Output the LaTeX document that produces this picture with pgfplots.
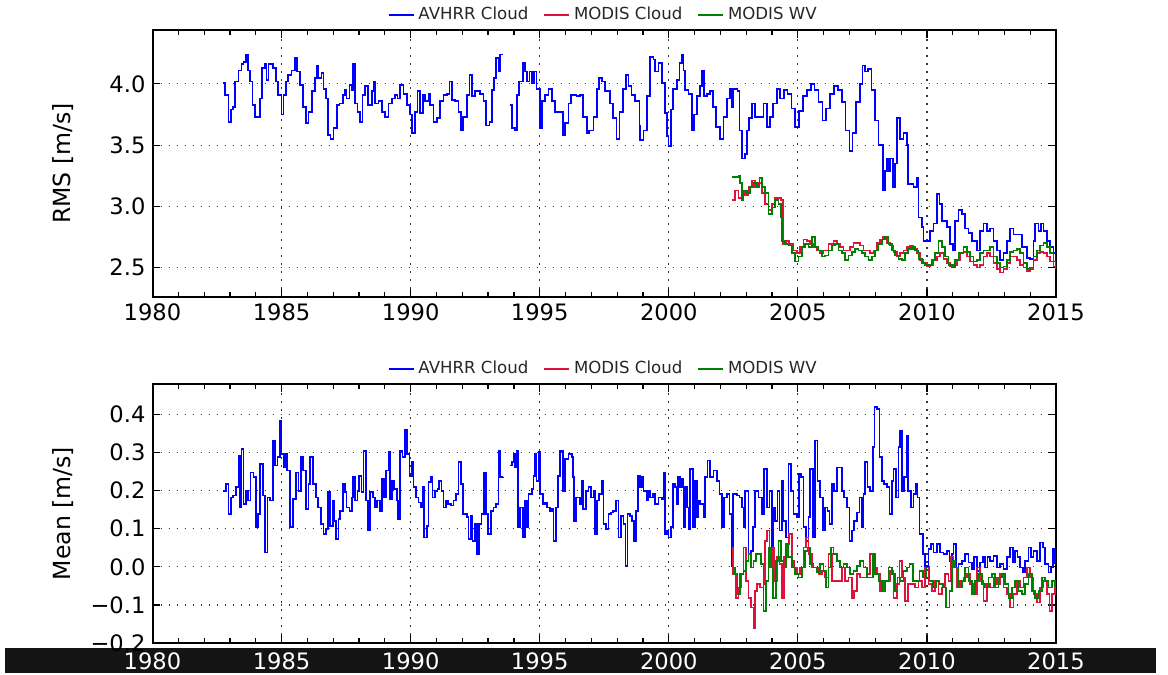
\documentclass[border=0pt]{standalone}
\usepackage{fontspec}
\setmainfont{DejaVu Sans}
\usepackage{pgfplots}
\pgfplotsset{compat=1.18}
\definecolor{mblue}{RGB}{0,0,255}
\definecolor{mred}{RGB}{220,20,60}
\definecolor{mgreen}{RGB}{0,128,0}
\pgfplotsset{
  panel/.style={
    scale only axis, width=451.75pt,
    xmin=1980, xmax=2015,
    xtick={1980,1985,1990,1995,2000,2005,2010,2015},
    xticklabels={1980,1985,1990,1995,2000,2005,2010,2015},
    minor x tick num=4,
    tick align=inside, major tick length=4pt, minor tick length=2.5pt,
    axis line style={line width=1pt},
    tick style={black, line width=0.6pt},
    xmajorgrids, ymajorgrids,
    major grid style={black!80, line width=0.6pt, dash pattern=on 0.8pt off 3.2pt},
    ticklabel style={font=\fontsize{11.3}{13}\selectfont},
    label style={font=\fontsize{11.8}{14}\selectfont},
    ylabel style={at={(axis description cs:-0.099,0.5)}, anchor=center},
    unbounded coords=jump,
    legend columns=3,
    legend style={draw=none, fill=none, at={(0.5,1)}, anchor=center, yshift=7.5pt,
      font=\fontsize{8.3}{10}\selectfont, text=black!85,
      /tikz/every even column/.append style={column sep=5.5pt}},
    legend image code/.code={\draw[#1] (0pt,0pt) -- (12.5pt,0pt);},
    every axis plot/.append style={line width=0.85pt, const plot},
  }
}
\begin{document}
\begin{tikzpicture}
\path[use as bounding box] (0,0) rectangle (584pt,337.5pt);
\begin{axis}[panel, at={(76.25pt,189pt)}, anchor=south west, height=133.5pt,
  ymin=2.26, ymax=4.44, ytick={2.5,3.0,3.5,4.0}, yticklabels={2.5,3.0,3.5,4.0},
  ylabel={RMS [m/s]}]
\addplot[mblue] coordinates {
(1982.72,4.01)(1982.81,3.91)(1982.94,3.69)(1983.03,3.79)(1983.13,3.81)(1983.20,4.02)(1983.33,4.11)(1983.45,4.16)(1983.52,4.18)(1983.62,4.24)(1983.71,4.11)(1983.78,4.02)(1983.87,3.83)(1983.97,3.73)(1984.10,3.73)(1984.16,3.88)(1984.23,4.13)(1984.36,4.16)(1984.42,4.03)(1984.49,4.16)(1984.55,4.16)(1984.68,4.13)(1984.78,4.02)(1984.87,3.91)(1985.00,3.75)(1985.07,3.91)(1985.17,4.02)(1985.26,4.07)(1985.39,4.11)(1985.52,4.21)(1985.61,4.10)(1985.71,3.99)(1985.84,3.81)(1985.95,3.68)(1986.04,3.77)(1986.17,3.94)(1986.30,4.05)(1986.36,4.15)(1986.43,4.05)(1986.55,4.09)(1986.62,3.96)(1986.72,3.88)(1986.81,3.58)(1986.90,3.55)(1987.01,3.64)(1987.14,3.83)(1987.24,3.84)(1987.37,3.91)(1987.46,3.95)(1987.52,3.88)(1987.63,3.99)(1987.72,3.95)(1987.78,4.16)(1987.85,3.84)(1987.94,3.77)(1988.04,3.69)(1988.13,3.91)(1988.23,3.98)(1988.36,3.83)(1988.49,3.94)(1988.56,4.02)(1988.62,3.84)(1988.75,3.86)(1988.88,3.77)(1989.01,3.73)(1989.14,3.84)(1989.27,3.88)(1989.40,3.91)(1989.49,3.88)(1989.59,3.99)(1989.72,3.92)(1989.85,3.83)(1989.98,3.75)(1990.04,3.60)(1990.17,3.77)(1990.26,3.94)(1990.36,3.76)(1990.47,3.91)(1990.56,3.86)(1990.69,3.92)(1990.75,3.83)(1990.88,3.69)(1991.01,3.72)(1991.14,3.86)(1991.27,3.91)(1991.40,3.92)(1991.50,4.02)(1991.59,3.87)(1991.72,3.86)(1991.85,3.77)(1991.94,3.62)(1992.04,3.73)(1992.17,3.91)(1992.28,4.07)(1992.37,3.90)(1992.49,3.94)(1992.69,3.92)(1992.82,3.86)(1992.91,3.66)(1993.05,3.69)(1993.14,3.95)(1993.23,4.05)(1993.31,4.21)(1993.40,4.10)(1993.46,4.24)(1993.57,4.24)
(1993.70,nan)
(1993.83,3.83)(1993.92,3.64)(1994.04,3.62)(1994.11,3.91)(1994.21,4.02)(1994.34,4.17)(1994.43,4.10)(1994.52,4.02)(1994.60,4.10)(1994.69,4.01)(1994.79,4.10)(1994.88,3.96)(1995.01,3.64)(1995.08,3.86)(1995.21,3.91)(1995.34,3.96)(1995.47,3.86)(1995.59,3.77)(1995.79,3.77)(1995.89,3.58)(1995.98,3.68)(1996.11,3.84)(1996.20,3.91)(1996.43,3.90)(1996.56,3.91)(1996.69,3.73)(1996.82,3.60)(1996.92,3.62)(1997.08,3.73)(1997.21,3.96)(1997.30,4.05)(1997.40,4.02)(1997.53,3.94)(1997.73,3.84)(1997.85,3.72)(1997.98,3.55)(1998.09,3.77)(1998.22,3.96)(1998.35,4.07)(1998.44,3.98)(1998.56,3.91)(1998.69,3.86)(1998.86,3.66)(1998.89,3.54)(1999.02,3.62)(1999.15,3.90)(1999.28,4.22)(1999.41,4.20)(1999.47,4.10)(1999.60,4.17)(1999.73,4.01)(1999.86,3.76)(1999.92,3.57)(1999.99,3.49)(2000.08,3.79)(2000.15,3.96)(2000.31,4.03)(2000.41,4.17)(2000.50,4.24)(2000.57,4.11)(2000.63,3.95)(2000.76,3.92)(2000.89,3.62)(2000.98,3.75)(2001.08,3.90)(2001.21,3.98)(2001.28,4.11)(2001.37,3.90)(2001.47,3.92)(2001.60,3.94)(2001.70,3.81)(2001.83,3.65)(2001.99,3.55)(2002.12,3.73)(2002.25,3.88)(2002.38,3.96)(2002.44,3.81)(2002.50,3.96)(2002.66,3.94)(2002.74,3.62)(2002.83,3.39)(2002.96,3.43)(2003.02,3.62)(2003.12,3.72)(2003.21,3.84)(2003.34,3.73)(2003.51,3.73)(2003.67,3.84)(2003.80,3.65)(2003.93,3.73)(2004.05,3.84)(2004.18,3.96)(2004.31,3.88)(2004.45,3.95)(2004.60,3.92)(2004.75,3.80)(2004.90,3.65)(2005.05,3.78)(2005.20,3.90)(2005.35,3.95)(2005.50,4.00)(2005.65,3.95)(2005.80,3.85)(2005.95,3.70)(2006.10,3.80)(2006.25,3.92)(2006.40,3.98)(2006.55,3.95)(2006.70,3.85)(2006.85,3.62)(2007.00,3.45)(2007.12,3.60)(2007.25,3.85)(2007.40,4.00)(2007.50,4.15)(2007.60,4.10)(2007.72,4.12)(2007.85,3.95)(2008.00,3.70)(2008.12,3.50)(2008.29,3.13)(2008.38,3.29)(2008.45,3.39)(2008.51,3.29)(2008.57,3.39)(2008.68,3.16)(2008.77,3.35)(2008.83,3.72)(2008.96,3.55)(2009.09,3.60)(2009.22,3.50)(2009.28,3.18)(2009.48,3.16)(2009.61,3.23)(2009.67,2.91)(2009.80,2.83)(2009.87,2.72)(2009.99,2.72)(2010.12,2.80)(2010.25,2.86)(2010.38,3.10)(2010.49,3.02)(2010.58,2.88)(2010.77,2.83)(2010.90,2.69)(2011.00,2.64)(2011.09,2.88)(2011.22,2.97)(2011.35,2.94)(2011.48,2.82)(2011.61,2.78)(2011.74,2.72)(2011.93,2.64)(2012.06,2.80)(2012.19,2.86)(2012.32,2.80)(2012.45,2.82)(2012.58,2.72)(2012.71,2.64)(2012.84,2.56)(2012.97,2.62)(2013.10,2.72)(2013.22,2.82)(2013.35,2.77)(2013.55,2.77)(2013.68,2.67)(2013.87,2.58)(2014.00,2.57)(2014.13,2.72)(2014.19,2.86)(2014.32,2.80)(2014.41,2.86)(2014.52,2.80)(2014.65,2.72)(2014.77,2.67)(2014.90,2.62)(2015.00,2.56)
};
\addlegendentry{AVHRR Cloud}
\addplot[mred] coordinates {
(2002.44,3.05)(2002.57,3.13)(2002.70,3.07)(2002.83,3.13)(2002.96,3.09)(2003.09,3.16)(2003.22,3.21)(2003.34,3.16)(2003.47,3.19)(2003.60,3.11)(2003.73,3.02)(2003.86,2.97)(2003.99,3.02)(2004.12,3.07)(2004.25,3.07)(2004.35,3.05)(2004.42,2.69)(2004.55,2.72)(2004.67,2.69)(2004.83,2.64)(2004.96,2.62)(2005.09,2.67)(2005.22,2.73)(2005.35,2.72)(2005.47,2.69)(2005.60,2.67)(2005.73,2.64)(2005.86,2.62)(2005.99,2.64)(2006.19,2.69)(2006.38,2.72)(2006.51,2.69)(2006.64,2.67)(2006.77,2.64)(2006.90,2.64)(2007.02,2.67)(2007.15,2.70)(2007.28,2.70)(2007.41,2.68)(2007.54,2.64)(2007.67,2.64)(2007.80,2.62)(2007.93,2.64)(2008.06,2.70)(2008.19,2.73)(2008.29,2.75)(2008.45,2.70)(2008.57,2.68)(2008.70,2.63)(2008.83,2.59)(2008.96,2.62)(2009.09,2.64)(2009.22,2.67)(2009.35,2.68)(2009.48,2.65)(2009.61,2.62)(2009.74,2.56)(2009.87,2.54)(2009.99,2.51)(2010.12,2.52)(2010.25,2.56)(2010.38,2.59)(2010.51,2.62)(2010.64,2.57)(2010.77,2.54)(2010.90,2.51)(2011.03,2.52)(2011.16,2.56)(2011.29,2.62)(2011.42,2.63)(2011.54,2.59)(2011.67,2.55)(2011.80,2.52)(2011.93,2.50)(2012.06,2.52)(2012.19,2.59)(2012.32,2.62)(2012.45,2.59)(2012.58,2.54)(2012.71,2.49)(2012.84,2.46)(2012.97,2.49)(2013.10,2.54)(2013.22,2.59)(2013.35,2.59)(2013.48,2.56)(2013.61,2.52)(2013.74,2.50)(2013.87,2.47)(2014.00,2.49)(2014.13,2.56)(2014.26,2.62)(2014.39,2.63)(2014.52,2.62)(2014.65,2.59)(2014.77,2.55)(2014.90,2.51)(2015.00,2.49)
};
\addlegendentry{MODIS Cloud}
\addplot[mgreen] coordinates {
(2002.44,3.24)(2002.70,3.25)(2002.76,3.19)(2002.83,3.05)(2002.89,3.13)(2003.02,3.11)(2003.15,3.16)(2003.28,3.19)(2003.41,3.16)(2003.51,3.23)(2003.60,3.16)(2003.73,3.11)(2003.86,2.94)(2003.99,2.99)(2004.12,3.05)(2004.25,3.02)(2004.35,2.91)(2004.39,2.72)(2004.51,2.69)(2004.64,2.68)(2004.76,2.62)(2004.89,2.55)(2005.02,2.59)(2005.15,2.67)(2005.28,2.69)(2005.41,2.67)(2005.54,2.75)(2005.67,2.67)(2005.80,2.64)(2005.93,2.59)(2006.06,2.60)(2006.19,2.64)(2006.31,2.68)(2006.44,2.69)(2006.57,2.64)(2006.70,2.62)(2006.83,2.56)(2006.96,2.60)(2007.09,2.63)(2007.22,2.65)(2007.35,2.64)(2007.48,2.62)(2007.61,2.59)(2007.74,2.56)(2007.86,2.59)(2007.99,2.64)(2008.12,2.69)(2008.25,2.73)(2008.38,2.75)(2008.51,2.69)(2008.64,2.64)(2008.77,2.60)(2008.90,2.57)(2009.03,2.56)(2009.16,2.62)(2009.28,2.65)(2009.41,2.67)(2009.54,2.64)(2009.67,2.57)(2009.80,2.54)(2009.93,2.52)(2010.06,2.52)(2010.19,2.56)(2010.32,2.62)(2010.45,2.72)(2010.58,2.67)(2010.71,2.59)(2010.83,2.52)(2010.96,2.50)(2011.09,2.56)(2011.22,2.62)(2011.42,2.67)(2011.54,2.63)(2011.67,2.59)(2011.80,2.55)(2011.93,2.56)(2012.06,2.62)(2012.19,2.64)(2012.32,2.64)(2012.45,2.67)(2012.58,2.59)(2012.71,2.54)(2012.84,2.50)(2012.97,2.51)(2013.10,2.56)(2013.22,2.63)(2013.35,2.64)(2013.48,2.65)(2013.61,2.62)(2013.74,2.54)(2013.87,2.49)(2014.00,2.50)(2014.13,2.59)(2014.26,2.64)(2014.39,2.68)(2014.52,2.70)(2014.65,2.67)(2014.77,2.62)(2014.90,2.55)(2015.00,2.50)
};
\addlegendentry{MODIS WV}
\end{axis}
\fill[black!92] (2.5pt,1pt) rectangle (578pt,13.5pt);
\begin{axis}[panel, at={(76.25pt,16pt)}, anchor=south west, height=129.5pt,
  ymin=-0.2, ymax=0.48, ytick={-0.2,-0.1,0,0.1,0.2,0.3,0.4},
  yticklabels={−0.2,−0.1,0.0,0.1,0.2,0.3,0.4},
  xticklabel style={text=white, yshift=-1.5pt},
  ylabel={Mean [m/s]}]
\addplot[mblue] coordinates {
(1982.74,0.200)(1982.85,0.218)(1982.94,0.139)(1983.03,0.182)(1983.13,0.187)(1983.23,0.209)(1983.33,0.292)(1983.39,0.156)(1983.45,0.310)(1983.52,0.165)(1983.62,0.200)(1983.71,0.174)(1983.80,0.248)(1983.91,0.235)(1984.01,0.104)(1984.10,0.139)(1984.16,0.270)(1984.27,0.187)(1984.36,0.038)(1984.45,0.182)(1984.55,0.174)(1984.66,0.330)(1984.75,0.266)(1984.84,0.288)(1984.94,0.382)(1985.00,0.296)(1985.07,0.261)(1985.13,0.296)(1985.22,0.253)(1985.33,0.104)(1985.43,0.178)(1985.56,0.248)(1985.65,0.200)(1985.74,0.288)(1985.84,0.253)(1985.95,0.152)(1986.04,0.218)(1986.10,0.288)(1986.21,0.218)(1986.33,0.182)(1986.42,0.156)(1986.52,0.112)(1986.62,0.086)(1986.72,0.099)(1986.81,0.196)(1986.88,0.108)(1986.98,0.174)(1987.03,0.121)(1987.11,0.073)(1987.20,0.125)(1987.26,0.147)(1987.37,0.218)(1987.46,0.196)(1987.52,0.156)(1987.63,0.147)(1987.72,0.182)(1987.78,0.235)(1987.85,0.174)(1987.94,0.200)(1988.01,0.239)(1988.10,0.196)(1988.17,0.305)(1988.26,0.174)(1988.36,0.095)(1988.43,0.196)(1988.53,0.182)(1988.62,0.156)(1988.71,0.174)(1988.81,0.147)(1988.88,0.231)(1988.97,0.182)(1989.05,0.253)(1989.14,0.301)(1989.20,0.178)(1989.27,0.226)(1989.36,0.204)(1989.46,0.174)(1989.52,0.125)(1989.59,0.305)(1989.69,0.288)(1989.78,0.360)(1989.85,0.296)(1989.95,0.239)(1990.04,0.275)(1990.11,0.209)(1990.21,0.182)(1990.30,0.169)(1990.39,0.156)(1990.47,0.209)(1990.52,0.077)(1990.62,0.108)(1990.69,0.222)(1990.78,0.235)(1990.85,0.182)(1990.95,0.200)(1991.04,0.204)(1991.11,0.226)(1991.20,0.200)(1991.27,0.156)(1991.37,0.174)(1991.46,0.165)(1991.55,0.161)(1991.66,0.174)(1991.76,0.191)(1991.85,0.275)(1991.94,0.218)(1992.04,0.139)(1992.17,0.130)(1992.24,0.073)(1992.33,0.134)(1992.40,0.068)(1992.49,0.112)(1992.56,0.033)(1992.66,0.112)(1992.75,0.139)(1992.84,0.248)(1992.92,0.139)(1993.01,0.086)(1993.10,0.147)(1993.21,0.156)(1993.31,0.165)(1993.40,0.305)(1993.46,0.235)(1993.57,0.237)
(1993.70,nan)
(1993.83,0.266)(1993.92,0.275)(1993.98,0.296)(1994.04,0.261)(1994.11,0.305)(1994.17,0.104)(1994.24,0.156)(1994.34,0.077)(1994.43,0.174)(1994.50,0.104)(1994.56,0.191)(1994.69,0.204)(1994.76,0.239)(1994.82,0.296)(1994.88,0.226)(1994.95,0.301)(1995.01,0.191)(1995.12,0.165)(1995.21,0.169)(1995.27,0.156)(1995.39,0.147)(1995.47,0.152)(1995.53,0.068)(1995.63,0.156)(1995.72,0.239)(1995.79,0.305)(1995.89,0.200)(1995.98,0.283)(1996.11,0.296)(1996.24,0.288)(1996.28,0.235)(1996.33,0.121)(1996.41,0.182)(1996.50,0.182)(1996.56,0.165)(1996.63,0.226)(1996.69,0.152)(1996.80,0.200)(1996.89,0.209)(1996.98,0.182)(1997.08,0.200)(1997.14,0.086)(1997.23,0.174)(1997.31,0.191)(1997.40,0.226)(1997.47,0.112)(1997.57,0.099)(1997.66,0.139)(1997.75,0.143)(1997.85,0.147)(1997.96,0.174)(1998.05,0.077)(1998.14,0.134)(1998.24,0.112)(1998.32,0.003)(1998.40,0.139)(1998.50,0.134)(1998.58,0.121)(1998.66,0.068)(1998.73,0.147)(1998.81,0.239)(1998.89,0.209)(1998.95,0.235)(1999.02,0.200)(1999.15,0.174)(1999.21,0.200)(1999.28,0.182)(1999.38,0.191)(1999.47,0.165)(1999.60,0.182)(1999.73,0.178)(1999.79,0.248)(1999.86,0.086)(1999.92,0.095)(1999.99,0.077)(2000.08,0.104)(2000.15,0.218)(2000.24,0.209)(2000.31,0.165)(2000.37,0.235)(2000.44,0.209)(2000.50,0.231)(2000.57,0.104)(2000.63,0.209)(2000.70,0.156)(2000.76,0.099)(2000.83,0.257)(2000.93,0.104)(2001.02,0.226)(2001.08,0.130)(2001.15,0.174)(2001.21,0.165)(2001.34,0.130)(2001.41,0.235)(2001.50,0.279)(2001.60,0.235)(2001.73,0.253)(2001.86,0.226)(2001.96,0.191)(2002.05,0.104)(2002.14,0.182)(2002.25,0.191)(2002.35,0.139)(2002.44,0.003)(2002.50,0.191)(2002.63,0.187)(2002.74,0.182)(2002.83,0.156)(2002.89,0.104)(2002.96,0.200)(2003.02,0.200)(2003.09,0.033)(2003.18,0.042)(2003.25,0.104)(2003.34,0.200)(2003.47,0.182)(2003.60,0.139)(2003.69,0.257)(2003.80,0.156)(2003.90,0.200)(2003.99,0.051)(2004.05,0.156)(2004.12,0.121)(2004.21,0.200)(2004.29,0.095)(2004.38,0.226)(2004.44,0.121)(2004.55,0.077)(2004.64,0.270)(2004.73,0.200)(2004.83,0.139)(2004.96,0.130)(2005.05,0.244)(2005.13,0.235)(2005.22,0.104)(2005.32,0.068)(2005.41,0.130)(2005.47,0.257)(2005.58,0.077)(2005.67,0.332)(2005.76,0.226)(2005.86,0.182)(2005.97,0.095)(2006.06,0.156)(2006.15,0.147)(2006.22,0.112)(2006.31,0.218)(2006.41,0.200)(2006.51,0.261)(2006.61,0.261)(2006.70,0.200)(2006.79,0.182)(2006.90,0.156)(2007.00,0.068)(2007.09,0.095)(2007.18,0.121)(2007.28,0.143)(2007.39,0.182)(2007.48,0.104)(2007.54,0.191)(2007.61,0.275)(2007.70,0.209)(2007.80,0.200)(2007.90,0.314)(2007.97,0.419)(2008.06,0.415)(2008.16,0.288)(2008.25,0.226)(2008.34,0.218)(2008.45,0.209)(2008.55,0.139)(2008.64,0.226)(2008.70,0.257)(2008.81,0.182)(2008.90,0.314)(2008.96,0.358)(2009.03,0.200)(2009.12,0.235)(2009.22,0.345)(2009.28,0.200)(2009.38,0.156)(2009.48,0.191)(2009.58,0.218)(2009.63,0.182)(2009.71,0.086)(2009.84,0.033)(2009.93,0.003)(2010.06,0.046)(2010.15,0.060)(2010.25,0.038)(2010.38,0.060)(2010.51,0.038)(2010.64,0.033)(2010.77,0.042)(2010.87,0.016)(2010.96,0.033)(2011.03,0.060)(2011.13,-0.002)(2011.22,0.007)(2011.35,0.016)(2011.48,0.033)(2011.61,0.011)(2011.74,-0.006)(2011.83,0.025)(2011.93,-0.011)(2012.06,0.011)(2012.17,0.025)(2012.26,-0.002)(2012.35,0.025)(2012.45,0.016)(2012.58,0.029)(2012.71,-0.002)(2012.84,0.007)(2012.97,-0.006)(2013.10,0.025)(2013.22,0.051)(2013.33,0.011)(2013.42,0.042)(2013.51,0.025)(2013.61,-0.002)(2013.72,-0.015)(2013.81,0.016)(2013.93,0.051)(2014.03,0.025)(2014.13,0.042)(2014.26,0.016)(2014.39,0.064)(2014.49,0.051)(2014.58,0.007)(2014.71,-0.015)(2014.80,-0.002)(2014.88,0.046)(2014.97,0.007)
};
\addlegendentry{AVHRR Cloud}
\addplot[mred] coordinates {
(2002.44,0.051)(2002.50,-0.019)(2002.61,-0.081)(2002.70,-0.054)(2002.79,-0.019)(2002.89,0.051)(2002.99,-0.037)(2003.09,-0.081)(2003.18,-0.107)(2003.28,-0.160)(2003.34,-0.063)(2003.41,-0.046)(2003.54,-0.054)(2003.67,-0.046)(2003.73,0.068)(2003.80,0.095)(2003.90,-0.002)(2003.99,0.051)(2004.08,-0.037)(2004.18,0.025)(2004.29,0.007)(2004.38,-0.081)(2004.47,0.025)(2004.57,0.060)(2004.67,0.086)(2004.76,0.016)(2004.86,-0.002)(2004.96,-0.019)(2005.09,-0.002)(2005.22,0.051)(2005.32,0.077)(2005.41,0.033)(2005.54,-0.002)(2005.67,-0.002)(2005.80,-0.019)(2005.93,-0.011)(2006.06,-0.028)(2006.19,0.033)(2006.31,-0.037)(2006.44,-0.037)(2006.57,-0.037)(2006.70,-0.002)(2006.83,-0.037)(2006.96,-0.028)(2007.09,-0.081)(2007.18,-0.063)(2007.28,-0.019)(2007.41,-0.028)(2007.54,-0.028)(2007.67,-0.019)(2007.80,0.033)(2007.93,-0.002)(2008.06,-0.019)(2008.19,-0.063)(2008.32,-0.037)(2008.45,-0.037)(2008.57,-0.011)(2008.70,-0.081)(2008.83,-0.046)(2008.94,0.016)(2009.03,-0.028)(2009.16,-0.089)(2009.28,-0.046)(2009.41,-0.046)(2009.54,-0.054)(2009.67,-0.037)(2009.80,-0.054)(2009.93,-0.002)(2010.06,-0.046)(2010.19,-0.063)(2010.32,-0.037)(2010.45,-0.072)(2010.58,-0.054)(2010.71,-0.019)(2010.83,-0.037)(2010.93,0.025)(2011.03,-0.002)(2011.16,-0.054)(2011.29,-0.037)(2011.42,-0.028)(2011.54,-0.019)(2011.67,-0.046)(2011.80,-0.072)(2011.93,-0.002)(2012.06,-0.037)(2012.19,-0.089)(2012.32,-0.046)(2012.45,-0.054)(2012.58,-0.028)(2012.71,-0.046)(2012.84,-0.019)(2012.97,-0.054)(2013.10,-0.072)(2013.22,-0.107)(2013.35,-0.072)(2013.48,-0.037)(2013.61,-0.054)(2013.74,-0.028)(2013.87,-0.002)(2014.00,-0.028)(2014.13,-0.072)(2014.26,-0.094)(2014.39,-0.054)(2014.52,-0.037)(2014.65,-0.072)(2014.75,-0.116)(2014.84,-0.072)(2014.97,-0.054)
};
\addlegendentry{MODIS Cloud}
\addplot[mgreen] coordinates {
(2002.50,-0.002)(2002.57,-0.019)(2002.66,-0.072)(2002.76,-0.019)(2002.89,-0.011)(2002.99,0.016)(2003.09,0.033)(2003.18,-0.002)(2003.28,0.016)(2003.38,0.033)(2003.47,0.033)(2003.56,0.007)(2003.67,-0.116)(2003.77,-0.037)(2003.86,0.051)(2003.95,-0.002)(2004.05,-0.081)(2004.16,0.016)(2004.25,0.068)(2004.34,0.016)(2004.44,-0.002)(2004.55,0.060)(2004.64,0.025)(2004.76,-0.002)(2004.89,-0.019)(2005.02,-0.028)(2005.15,-0.002)(2005.28,0.042)(2005.37,0.051)(2005.47,0.007)(2005.60,-0.002)(2005.73,-0.015)(2005.86,0.007)(2005.99,-0.011)(2006.09,-0.054)(2006.19,-0.002)(2006.28,0.051)(2006.38,0.033)(2006.51,0.016)(2006.64,-0.002)(2006.77,0.007)(2006.90,-0.002)(2007.02,-0.019)(2007.15,-0.011)(2007.28,0.003)(2007.41,0.016)(2007.54,-0.002)(2007.67,-0.028)(2007.80,-0.028)(2007.90,0.033)(2007.99,-0.019)(2008.12,-0.037)(2008.25,-0.063)(2008.38,-0.037)(2008.51,-0.002)(2008.64,-0.019)(2008.77,-0.063)(2008.86,-0.028)(2008.96,-0.037)(2009.09,-0.011)(2009.22,-0.002)(2009.32,0.007)(2009.45,-0.037)(2009.58,-0.037)(2009.71,-0.011)(2009.84,-0.028)(2009.97,-0.002)(2010.10,-0.037)(2010.23,-0.054)(2010.36,-0.037)(2010.49,-0.046)(2010.62,-0.054)(2010.74,-0.107)(2010.87,-0.063)(2010.96,0.016)(2011.09,-0.002)(2011.22,-0.054)(2011.35,-0.037)(2011.48,-0.002)(2011.61,-0.037)(2011.74,-0.072)(2011.87,-0.037)(2011.99,-0.019)(2012.13,-0.046)(2012.26,-0.054)(2012.38,-0.028)(2012.51,-0.019)(2012.64,-0.054)(2012.77,-0.028)(2012.90,-0.019)(2013.03,-0.046)(2013.16,-0.081)(2013.29,-0.054)(2013.42,-0.037)(2013.55,-0.063)(2013.68,-0.072)(2013.81,-0.046)(2013.93,-0.019)(2014.06,-0.063)(2014.19,-0.081)(2014.32,-0.063)(2014.45,-0.028)(2014.58,-0.037)(2014.71,-0.054)(2014.84,-0.037)(2014.97,-0.054)
};
\addlegendentry{MODIS WV}
\end{axis}
\end{tikzpicture}
\end{document}
